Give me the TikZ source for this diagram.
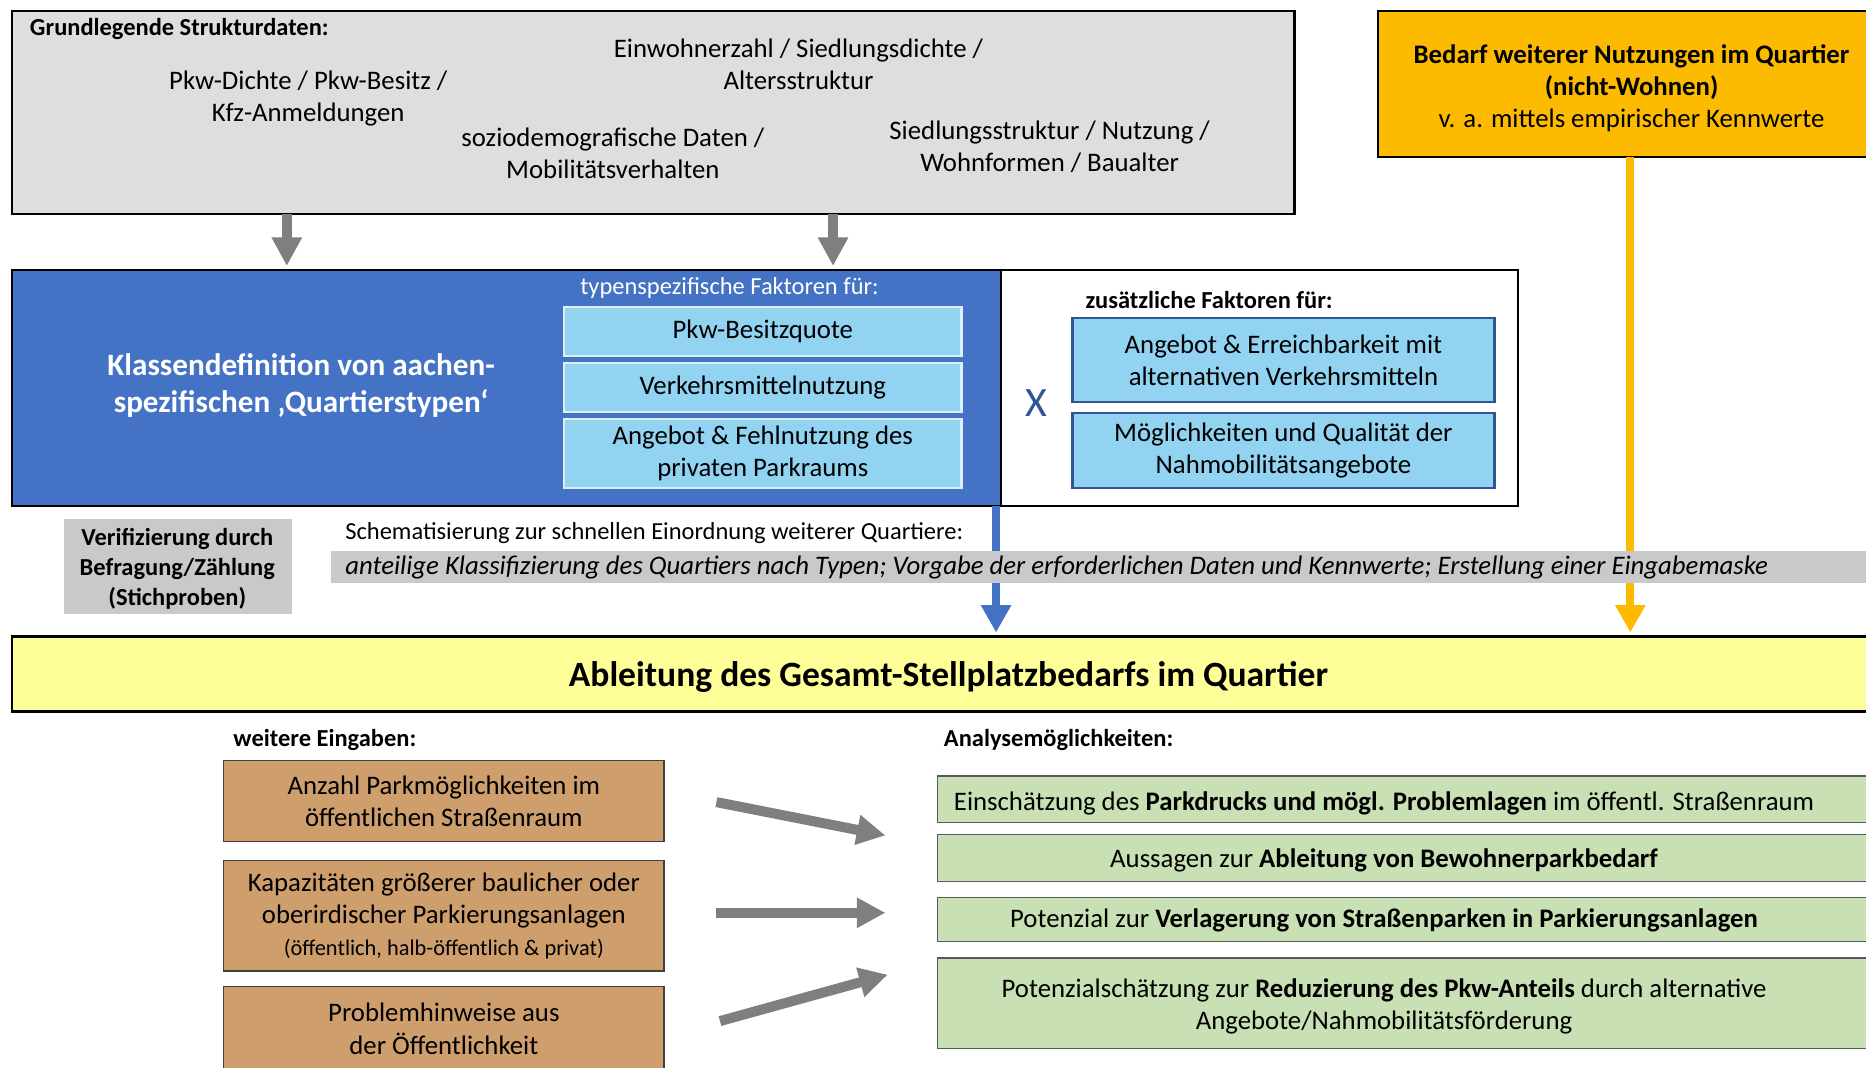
\documentclass[tikz,border=0pt]{standalone}
\usepackage{fontspec}
\setmainfont{Carlito}
\usepackage{tikz}
\usetikzlibrary{arrows.meta}
\definecolor{grundgrau}{RGB}{222,222,222}
\definecolor{bedarfgelb}{RGB}{252,186,0}
\definecolor{linieorange}{RGB}{255,186,0}
\definecolor{typblau}{RGB}{68,114,196}
\definecolor{faktorblau}{RGB}{146,211,241}
\definecolor{randblau}{RGB}{47,85,151}
\definecolor{pfeilgrau}{RGB}{127,127,127}
\definecolor{bandgrau}{RGB}{201,201,201}
\definecolor{gesamtgelb}{RGB}{255,255,153}
\definecolor{eingabebraun}{RGB}{206,159,108}
\definecolor{analysegruen}{RGB}{200,224,180}

\begin{document}
\begin{tikzpicture}[x=0.02cm, y=-0.02cm,
		box/.style={anchor=north west, inner sep=0pt, outer sep=0pt},
		txt/.style={align=center, font=\fontsize{12.8}{15.4}\selectfont},
		kopf/.style={anchor=west, font=\fontsize{11.7}{14}\selectfont\bfseries},
		faktor/.style={box, fill=faktorblau, draw=faktorblau!35!white, line width=1pt, minimum width=6.68cm},
		zusatzfaktor/.style={box, fill=faktorblau, draw=randblau, line width=1.2pt, minimum width=7.1cm},
		eingabe/.style={box, fill=eingabebraun, draw=black!75, line width=0.6pt, minimum width=7.4cm},
		analyse/.style={box, fill=analysegruen, draw=black!65, line width=0.6pt, minimum width=16cm},
		grauerpfeil/.style={draw=pfeilgrau, line width=4.8pt, -{Triangle[length=0.48cm, width=0.48cm]}},
		linie/.style={line width=3.8pt, shorten >=2pt, -{Triangle[length=0.46cm, width=0.48cm]}}
	]
		\clip (0,0) rectangle (1568,897);

		\node[box, fill=grundgrau, draw=black, line width=1pt, minimum width=21.56cm, minimum height=3.42cm] (struktur) at (10,9) {};
		\node[kopf] (strukturkopf) at (19,24) {Grundlegende Strukturdaten:};
		\node[txt] (pkw) at (259,83) {Pkw-Dichte / Pkw-Besitz /\\Kfz-Anmeldungen};
		\node[txt] (einwohner) at (671,54) {Einwohnerzahl / Siedlungsdichte /\\Altersstruktur};
		\node[txt] (sozio) at (515,129) {soziodemografische Daten /\\Mobilitätsverhalten};
		\node[txt] (siedlung) at (882,123) {Siedlungsstruktur / Nutzung /\\Wohnformen / Baualter};

		\node[box, fill=bedarfgelb, draw=black, line width=1pt, minimum width=8.52cm, minimum height=2.46cm] (bedarf) at (1158,9) {};
		\node[txt] (bedarftext) at (1371,74) {\textbf{Bedarf weiterer Nutzungen im Quartier}\\\textbf{(nicht-Wohnen)}\\v. a. mittels empirischer Kennwerte};

		\node[box, fill=typblau, draw=black, line width=1pt, minimum width=16.62cm, minimum height=3.96cm] (klassen) at (10,227) {};
		\node[box, fill=white, draw=black, line width=1pt, minimum width=8.7cm, minimum height=3.96cm] (zusatz) at (841,227) {};
		\node[txt, text=white, font=\fontsize{14.9}{17.6}\selectfont\bfseries] (klassentitel) at (253,324) {Klassendefinition von aachen-\\spezifischen ‚Quartierstypen‘};
		\node[text=white, font=\fontsize{11.7}{14}\selectfont] (typkopf) at (613,242) {typenspezifische Faktoren für:};
		\node[faktor, txt, minimum height=0.82cm] (f1) at (474,258) {Pkw-Besitzquote};
		\node[faktor, txt, minimum height=0.82cm] (f2) at (474,305) {Verkehrsmittelnutzung};
		\node[faktor, txt, minimum height=1.16cm] (f3) at (474,352) {Angebot \& Fehlnutzung des\\privaten Parkraums};

		\node[text=randblau, font=\fontsize{20}{22}\selectfont] (mal) at (871,339) {X};
		\node[kopf] (zusatzkopf) at (906,252) {zusätzliche Faktoren für:};
		\node[zusatzfaktor, txt, minimum height=1.42cm] (z1) at (901,267) {Angebot \& Erreichbarkeit mit\\alternativen Verkehrsmitteln};
		\node[zusatzfaktor, txt, minimum height=1.26cm] (z2) at (901,347) {Möglichkeiten und Qualität der\\Nahmobilitätsangebote};

		\node[box, fill=bandgrau, minimum width=3.82cm, minimum height=1.6cm] (verif) at (54,436) {};
		\node[txt, font=\fontsize{11.7}{14.2}\selectfont\bfseries] (veriftext) at (149,478) {Verifizierung durch\\Befragung/Zählung\\(Stichproben)};
		\node[anchor=west, font=\fontsize{11.7}{14}\selectfont] (schema) at (284,448) {Schematisierung zur schnellen Einordnung weiterer Quartiere:};

		\node[box, fill=gesamtgelb, draw=black, line width=1.2pt, minimum width=31.5cm, minimum height=1.26cm] (gesamt) at (10,535) {};
		\node[font=\fontsize{17}{20}\selectfont\bfseries] (gesamttext) at (797,569) {Ableitung des Gesamt-Stellplatzbedarfs im Quartier};

		\coordinate (pfeil1) at (241,0);
		\coordinate (pfeil2) at (700,0);
		\coordinate (blaux) at (837,0);
		\coordinate (orangex) at (1370,0);
		\draw[grauerpfeil, shorten >=2pt] (struktur.south -| pfeil1) -- (klassen.north -| pfeil1);
		\draw[grauerpfeil, shorten >=2pt] (struktur.south -| pfeil2) -- (klassen.north -| pfeil2);
		\draw[linie, draw=typblau] (klassen.south -| blaux) -- (gesamt.north -| blaux);
		\draw[linie, draw=linieorange] (bedarf.south -| orangex) -- (gesamt.north -| orangex);

		\node[box, fill=bandgrau, minimum width=26.1cm, minimum height=0.54cm] (band) at (278,463) {};
		\node[anchor=west, font=\fontsize{12.8}{15}\selectfont\itshape] (bandtext) at (284,477) {anteilige Klassifizierung des Quartiers nach Typen; Vorgabe der erforderlichen Daten und Kennwerte; Erstellung einer Eingabemaske};

		\node[kopf] (eingabekopf) at (190,622) {weitere Eingaben:};
		\node[kopf] (analysekopf) at (787,622) {Analysemöglichkeiten:};

		\node[eingabe, txt, minimum height=1.36cm] (e1) at (188,639) {Anzahl Parkmöglichkeiten im\\öffentlichen Straßenraum};
		\node[eingabe, txt, minimum height=1.86cm] (e2) at (188,723) {Kapazitäten größerer baulicher oder\\oberirdischer Parkierungsanlagen\\{\fontsize{10.7}{13}\selectfont(öffentlich, halb-öffentlich \& privat)}};
		\node[eingabe, txt, minimum height=1.42cm] (e3) at (188,829) {Problemhinweise aus\\der Öffentlichkeit};

		\node[analyse, minimum height=0.78cm] (a1) at (788,652) {};
		\node[analyse, minimum height=0.8cm] (a2) at (788,701) {};
		\node[analyse, minimum height=0.74cm] (a3) at (788,754) {};
		\node[analyse, minimum height=1.52cm] (a4) at (788,805) {};
		\node[txt] (a1text) at (1163,675) {Einschätzung des \textbf{Parkdrucks und mögl. Problemlagen} im öffentl. Straßenraum};
		\node[txt] (a2text) at (1163,723) {Aussagen zur \textbf{Ableitung von Bewohnerparkbedarf}};
		\node[txt] (a3text) at (1163,773) {Potenzial zur \textbf{Verlagerung von Straßenparken in Parkierungsanlagen}};
		\node[txt] (a4text) at (1163,846) {Potenzialschätzung zur \textbf{Reduzierung des Pkw-Anteils} durch alternative\\Angebote/Nahmobilitätsförderung};

		\coordinate (von1) at (602,674);
		\coordinate (nach1) at (744,702);
		\coordinate (von2) at (602,767);
		\coordinate (nach2) at (744,767);
		\coordinate (von3) at (605,858);
		\coordinate (nach3) at (746,819);
		\draw[grauerpfeil] (von1) -- (nach1);
		\draw[grauerpfeil] (von2) -- (nach2);
		\draw[grauerpfeil] (von3) -- (nach3);
	\end{tikzpicture}
\end{document}
